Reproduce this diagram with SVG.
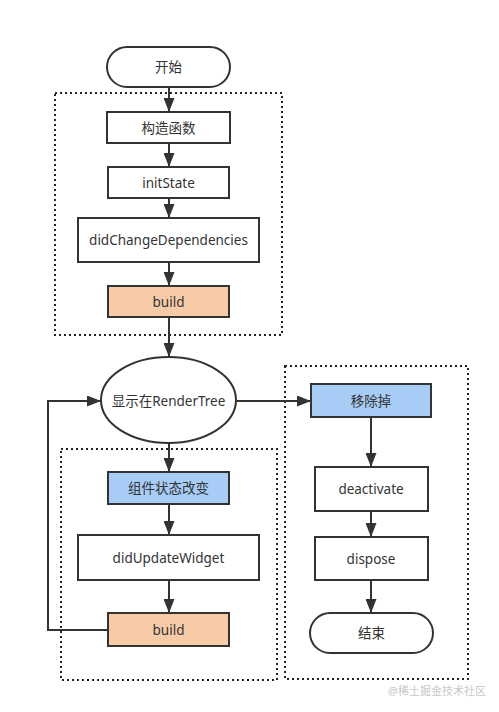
<svg xmlns="http://www.w3.org/2000/svg" width="499" height="712" viewBox="0 0 499 712">
<defs>
<marker id="ah" markerUnits="userSpaceOnUse" markerWidth="14" markerHeight="11" refX="14" refY="5.5" orient="auto" viewBox="0 0 14 11">
<path d="M0,0 L14,5.5 L0,11 Z" fill="#333"/>
</marker>
</defs>
<style>
.box{fill:#fff;stroke:#333;stroke-width:2}
.peach{fill:#F8CBA7;stroke:#333;stroke-width:2}
.blue{fill:#A7CDF6;stroke:#333;stroke-width:2}
.grp{fill:none;stroke:#222;stroke-width:2;stroke-dasharray:2 3}
.t{font-family:"Noto Sans","Noto Sans CJK SC",sans-serif;font-size:13.5px;fill:#333;text-anchor:middle;dominant-baseline:central}
.c{fill:none;stroke:#333;stroke-width:2;marker-end:url(#ah)}
</style>
<rect width="499" height="712" fill="#fff"/>
<g id="groups">
<rect class="grp" x="55" y="93" width="227" height="242"/>
<rect class="grp" x="61" y="449" width="216" height="231"/>
<rect class="grp" x="285" y="366" width="183" height="313"/>
</g>
<g id="connectors">
<line class="c" x1="169" y1="87" x2="169" y2="112"/>
<line class="c" x1="169" y1="143" x2="169" y2="167"/>
<line class="c" x1="169" y1="198" x2="169" y2="218"/>
<line class="c" x1="169" y1="262" x2="169" y2="286"/>
<line class="c" x1="169" y1="317" x2="169" y2="357"/>
<line class="c" x1="169" y1="443" x2="169" y2="472"/>
<line class="c" x1="169" y1="504" x2="169" y2="535"/>
<line class="c" x1="169" y1="580" x2="169" y2="613"/>
<polyline class="c" points="108,630 48,630 48,401 101,401"/>
<line class="c" x1="236" y1="401" x2="311" y2="401"/>
<line class="c" x1="371" y1="417" x2="371" y2="467"/>
<line class="c" x1="371" y1="511" x2="371" y2="537"/>
<line class="c" x1="371" y1="580" x2="371" y2="613"/>
</g>
<g id="start"><rect class="box" x="107" y="47" width="123" height="40" rx="20"/><text class="t" x="168.5" y="67">开始</text></g>
<g id="ctor"><rect class="box" x="107" y="112" width="123" height="31"/><text class="t" x="168.5" y="127.5">构造函数</text></g>
<g id="initState"><rect class="box" x="108" y="167" width="121" height="31"/><text class="t" x="168.5" y="182.5">initState</text></g>
<g id="didChangeDependencies"><rect class="box" x="78" y="218" width="181" height="44"/><text class="t" x="168.5" y="240">didChangeDependencies</text></g>
<g id="build1"><rect class="peach" x="108" y="286" width="121" height="31"/><text class="t" x="168.5" y="301.5">build</text></g>
<g id="renderTree"><ellipse class="box" cx="168.5" cy="400" rx="67.5" ry="43"/><text class="t" x="168.5" y="401">显示在RenderTree</text></g>
<g id="stateChange"><rect class="blue" x="108" y="472" width="121" height="32"/><text class="t" x="168.5" y="488">组件状态改变</text></g>
<g id="didUpdateWidget"><rect class="box" x="78" y="535" width="181" height="45"/><text class="t" x="168.5" y="557.5">didUpdateWidget</text></g>
<g id="build2"><rect class="peach" x="108" y="613" width="121" height="33"/><text class="t" x="168.5" y="629.5">build</text></g>
<g id="remove"><rect class="blue" x="311" y="384" width="120" height="33"/><text class="t" x="371" y="400.5">移除掉</text></g>
<g id="deactivate"><rect class="box" x="315" y="467" width="113" height="44"/><text class="t" x="371" y="489">deactivate</text></g>
<g id="dispose"><rect class="box" x="315" y="537" width="113" height="43"/><text class="t" x="371" y="558.5">dispose</text></g>
<g id="end"><rect class="box" x="310" y="613" width="123" height="40" rx="20"/><text class="t" x="371.5" y="633">结束</text></g>
<text x="437" y="690" style="font-family:'Noto Sans','Noto Sans CJK SC',sans-serif;font-size:11px;fill:#c8c8c8;text-anchor:middle;dominant-baseline:central">@稀土掘金技术社区</text>
</svg>
